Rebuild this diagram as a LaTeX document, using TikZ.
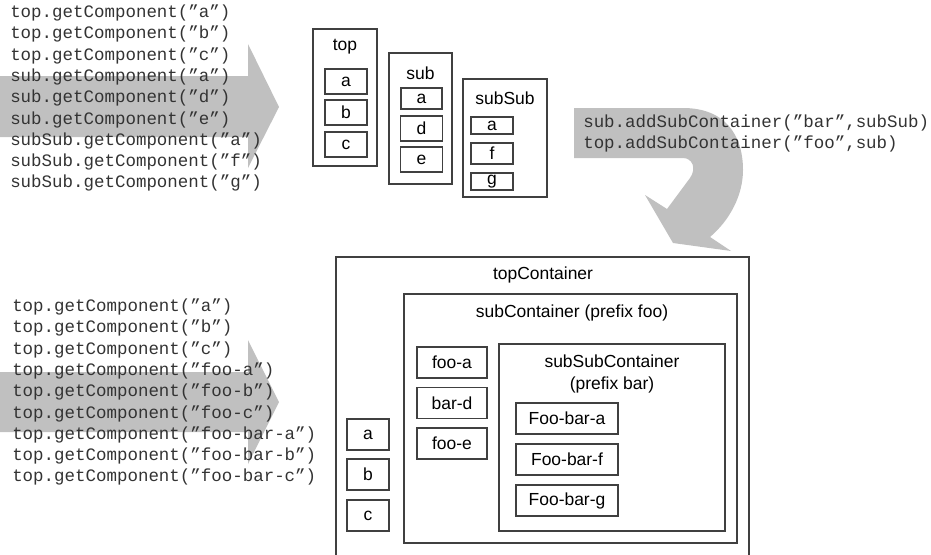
\documentclass[tikz,border=0pt]{standalone}
\usepackage{fontspec}
\setmainfont{Liberation Sans}
\setmonofont{Liberation Mono}
\usepackage{tikz}
\usetikzlibrary{positioning}

\definecolor{arrowgray}{RGB}{192,192,192}
\definecolor{linegray}{RGB}{64,64,64}

\tikzset{
  box/.style={draw=linegray,line width=0.8pt,inner sep=0pt},
  code/.style={anchor=base west,inner sep=0pt,font=\fontsize{13.1}{16}\ttfamily\selectfont,text=black!80}
}

\begin{document}
\begin{tikzpicture}[x=0.75pt,y=-0.75pt,font=\fontsize{13.1}{16}\selectfont]
    \useasboundingbox (0,0) rectangle (931,554);

    % big grey arrows
    \fill[arrowgray] (0,76) -- (248,76) -- (248,44) -- (279,107) -- (248,168) -- (248,137) -- (0,137) -- cycle;
    \fill[arrowgray] (0,372) -- (248,372) -- (248,340) -- (279,402) -- (248,464) -- (248,432) -- (0,432) -- cycle;
    \fill[arrowgray] (574,108) -- (683,108) .. controls (725,108) and (743,135) .. (743,170)
        .. controls (743,195) and (730,220) .. (710,237) -- (731,251) -- (673,243) -- (645,195)
        -- (667,209) -- (690,178) .. controls (697,168) and (692,158) .. (683,158) -- (574,158) -- cycle;

    \begin{scope}[every node/.style={code}]
    \node (top1) at (10,17.5) {top.getComponent(”a”)};
    \node (top2) at (10,38.8) {top.getComponent(”b”)};
    \node (top3) at (10,60.1) {top.getComponent(”c”)};
    \node (top4) at (10,81.4) {sub.getComponent(”a”)};
    \node (top5) at (10,102.7) {sub.getComponent(”d”)};
    \node (top6) at (10,124) {sub.getComponent(”e”)};
    \node (top7) at (10,145.3) {subSub.getComponent(”a”)};
    \node (top8) at (10,166.6) {subSub.getComponent(”f”)};
    \node (top9) at (10,187.9) {subSub.getComponent(”g”)};
    \node (add1) at (583,127.5) {sub.addSubContainer(”bar”,subSub)};
    \node (add2) at (583,148.8) {top.addSubContainer(”foo”,sub)};
    \node (get1) at (12,311.5) {top.getComponent(”a”)};
    \node (get2) at (12,332.8) {top.getComponent(”b”)};
    \node (get3) at (12,354.1) {top.getComponent(”c”)};
    \node (get4) at (12,375.4) {top.getComponent(”foo-a”)};
    \node (get5) at (12,396.7) {top.getComponent(”foo-b”)};
    \node (get6) at (12,418) {top.getComponent(”foo-c”)};
    \node (get7) at (12,439.3) {top.getComponent(”foo-bar-a”)};
    \node (get8) at (12,460.6) {top.getComponent(”foo-bar-b”)};
    \node (get9) at (12,481.9) {top.getComponent(”foo-bar-c”)};
    \end{scope}

    % the three containers before
    \node[box,minimum width=48pt,minimum height=102.75pt] (topC) at (345,97.5) {};
    \node[box,minimum width=47.25pt,minimum height=98.25pt] (subC) at (420.5,118.5) {};
    \node[box,minimum width=63pt,minimum height=88.5pt] (subSubC) at (505,138) {};
    \node (topLbl) at (345,47) {top};
    \node (subLbl) at (420.5,73) {sub};
    \node (subSubLbl) at (505,98) {subSub};
    \begin{scope}[every node/.style={box,minimum width=31.5pt,minimum height=18.75pt}]
    \node (ta) at (346,81.5) {a};
    \node (tb) at (346,112.5) {b};
    \node (tc) at (346,144.5) {c};
    \node[minimum width=30.75pt,minimum height=15.75pt] (sa) at (421.5,98.5) {a};
    \node (sd) at (421.5,128.5) {d};
    \node (se) at (421.5,159.5) {e};
    \node[minimum height=12.75pt] (ssa) at (492,125.5) {a};
    \node[minimum height=15.75pt] (ssf) at (492,153.5) {f};
    \node[minimum height=12.75pt] (ssg) at (492,181.5) {g};
    \end{scope}

    % the merged container
    \draw[linegray,line width=0.8pt] (336,560) |- (749,257) -- (749,560);
    \node[box,minimum width=249.75pt,minimum height=186.75pt] (subCont) at (570.5,418.5) {};
    \node[box,minimum width=169.5pt,minimum height=140.25pt] (subSubCont) at (612,437.5) {};
    \node (topContLbl) at (543,275) {topContainer};
    \node (subContLbl) at (572,313) {subContainer (prefix foo)};
    \node[align=center] (subSubContLbl) at (612,374) {subSubContainer\\(prefix bar)};
    \begin{scope}[every node/.style={box,minimum height=23.25pt}]
    \node[minimum width=31.5pt] (a) at (368,434.5) {a};
    \node[minimum width=31.5pt] (b) at (368,474.5) {b};
    \node[minimum width=31.5pt] (c) at (368,515.5) {c};
    \node[minimum width=52.5pt] (fooa) at (452,362.5) {foo-a};
    \node[minimum width=52.5pt] (bard) at (452,403) {bar-d};
    \node[minimum width=52.5pt] (fooe) at (452,443.5) {foo-e};
    \node[minimum width=76.5pt] (fba) at (567,418.5) {Foo-bar-a};
    \node[minimum width=76.5pt] (fbf) at (567,459.5) {Foo-bar-f};
    \node[minimum width=76.5pt] (fbg) at (567,500.5) {Foo-bar-g};
    \end{scope}
\end{tikzpicture}
\end{document}
